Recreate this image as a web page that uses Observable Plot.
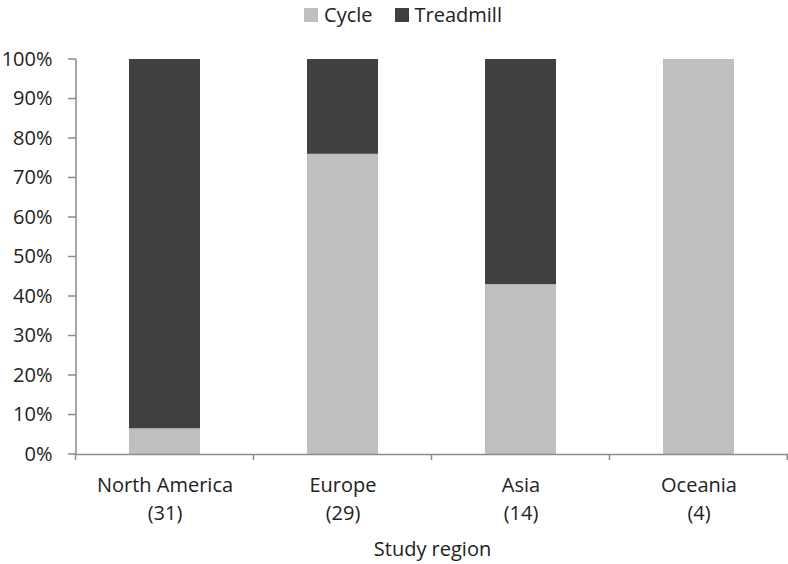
<!DOCTYPE html>
<html>
<head>
<meta charset="utf-8">
<script src="https://cdn.jsdelivr.net/npm/d3@7"></script>
<script src="https://cdn.jsdelivr.net/npm/@observablehq/plot@0.6"></script>
<style>
  body { margin: 0; background: #fff; font-family: "Open Sans", sans-serif; }
  #legend { height: 30px; padding-bottom: 1px; display: flex; justify-content: center; align-items: center; gap: 22px; font-size: 20px; line-height: 24px; color: #222; padding-left: 18px; box-sizing: border-box; }
  #legend span.sw { display: inline-block; width: 14px; height: 14px; margin-right: 6px; }
  #legend .item { display: flex; align-items: center; }
</style>
</head>
<body>
<div id="legend"></div>
<div id="chart"></div>
<script>
const regions = ["North America", "Europe", "Asia", "Oceania"];
const counts = [31, 29, 14, 4];
const cyclePct = [6.5, 76, 43, 100];
const treadmillPct = [93.5, 24, 57, 0];
const seriesNames = ["Cycle", "Treadmill"];
const seriesColors = ["#bfbfbf", "#404040"];
const yTicks = [0, 10, 20, 30, 40, 50, 60, 70, 80, 90, 100];

const data = [];
regions.forEach((r, i) => {
  data.push({region: r, type: "Cycle", value: cyclePct[i], order: 0});
  data.push({region: r, type: "Treadmill", value: treadmillPct[i], order: 1});
});
const labelOf = Object.fromEntries(regions.map((r, i) => [r, `${r}\n(${counts[i]})`]));

const legend = document.getElementById("legend");
seriesNames.forEach((n, i) => {
  const it = document.createElement("div");
  it.className = "item";
  it.innerHTML = `<span class="sw" style="background:${seriesColors[i]}"></span>${n}`;
  legend.appendChild(it);
});

const axisColor = "#8c8c8c";
const W = 788, H = 534, mL = 76, mR = 0, mT = 29, mB = 110;

const chart = Plot.plot({
  width: W,
  height: H,
  marginTop: mT,
  marginBottom: mB,
  marginLeft: mL,
  marginRight: mR,
  style: {fontFamily: "'Open Sans', sans-serif", fontSize: "20px", color: "#222", background: "#fff"},
  x: {domain: regions, paddingInner: 0.6, paddingOuter: 0.3, align: 0.5},
  y: {domain: [0, 100]},
  color: {domain: seriesNames, range: seriesColors},
  marks: [
    Plot.barY(data, {x: "region", y: "value", fill: "type", order: (d) => d.order}),
    Plot.axisY({ticks: yTicks, tickFormat: (d) => d + "%", tickSize: 0, tickPadding: 24, label: null, fontSize: 20}),
    Plot.axisX({tickSize: 0, tickPadding: 18, tickFormat: (d) => labelOf[d], label: null, lineHeight: 1.4, fontSize: 20}),
    Plot.ruleY([0], {stroke: axisColor, strokeWidth: 1.5}),
    Plot.text(["Study region"], {frameAnchor: "bottom", dy: 101, fontSize: 20, fill: "#222"})
  ]
});
document.getElementById("chart").appendChild(chart);

// axis line, y ticks and category boundary ticks from Plot's scales
const xs = chart.scale("x"), ys = chart.scale("y");
const y0 = ys.apply(0), y1 = ys.apply(100);
const step = xs.step, bw = xs.bandwidth;
let p = `M${mL},${y1}V${y0}`;
yTicks.forEach((t) => { p += `M${mL - 8},${ys.apply(t)}H${mL}`; });
regions.forEach((r) => {
  const left = xs.apply(r) + bw / 2 - step / 2;
  p += `M${left},${y0}v6`;
});
p += `M${W - mR - 0.75},${y0}v6`;
d3.select(chart).append("path")
  .attr("d", p)
  .attr("stroke", axisColor)
  .attr("stroke-width", 1.5)
  .attr("fill", "none");
</script>
</body>
</html>
